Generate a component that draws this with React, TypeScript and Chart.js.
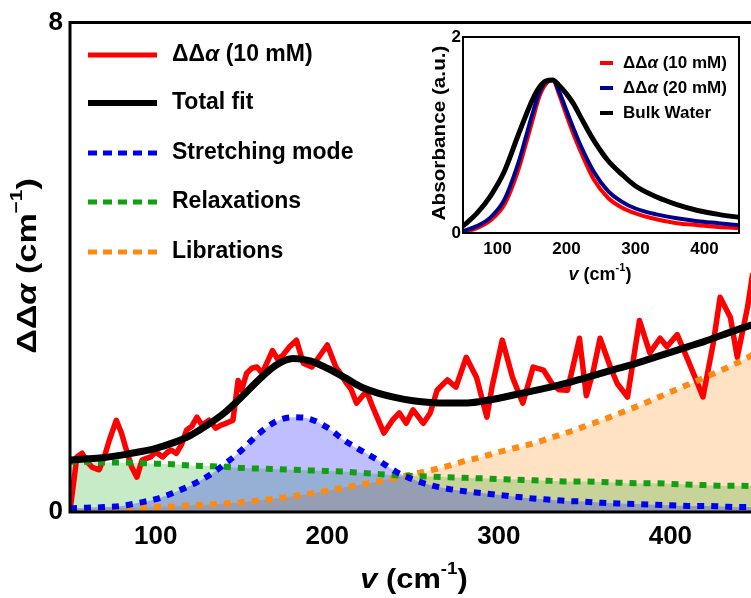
import React, { useEffect, useRef } from "react";
import { Chart, registerables } from "chart.js";

Chart.register(...registerables);

const FONT = '"Liberation Sans", Arial, Helvetica, sans-serif';

// ---- Main chart data ----
const fitV = [50, 60, 70, 80, 90, 100, 110, 120, 130, 140, 150, 160, 170, 180, 190, 200, 210, 220, 230, 240, 250, 260, 270, 280, 290, 300, 310, 320, 330, 340, 350, 360, 370, 380, 390, 400, 410, 420, 430, 440, 450];
const stretching = [0.06, 0.07, 0.08, 0.10, 0.15, 0.21, 0.31, 0.43, 0.58, 0.78, 1.01, 1.28, 1.48, 1.55, 1.52, 1.38, 1.17, 1.00, 0.84, 0.66, 0.53, 0.44, 0.38, 0.34, 0.31, 0.28, 0.25, 0.22, 0.20, 0.18, 0.17, 0.15, 0.14, 0.13, 0.12, 0.11, 0.10, 0.10, 0.09, 0.08, 0.08];
const relaxations = [0.82, 0.82, 0.81, 0.81, 0.80, 0.79, 0.78, 0.76, 0.75, 0.74, 0.72, 0.71, 0.70, 0.69, 0.68, 0.67, 0.66, 0.64, 0.62, 0.60, 0.59, 0.58, 0.57, 0.56, 0.55, 0.54, 0.53, 0.52, 0.51, 0.50, 0.50, 0.49, 0.48, 0.47, 0.47, 0.46, 0.45, 0.44, 0.43, 0.43, 0.42];
const librations = [0.05, 0.05, 0.06, 0.07, 0.07, 0.08, 0.09, 0.11, 0.12, 0.14, 0.16, 0.19, 0.22, 0.26, 0.30, 0.35, 0.40, 0.45, 0.50, 0.56, 0.62, 0.68, 0.75, 0.83, 0.90, 0.98, 1.05, 1.12, 1.21, 1.30, 1.40, 1.50, 1.61, 1.72, 1.84, 1.96, 2.08, 2.20, 2.32, 2.45, 2.60];
const totalFit = [0.85, 0.87, 0.89, 0.93, 0.98, 1.04, 1.13, 1.25, 1.42, 1.62, 1.88, 2.16, 2.40, 2.51, 2.47, 2.35, 2.20, 2.04, 1.94, 1.87, 1.82, 1.79, 1.78, 1.78, 1.81, 1.86, 1.92, 1.98, 2.04, 2.11, 2.19, 2.27, 2.35, 2.43, 2.52, 2.61, 2.70, 2.79, 2.89, 2.99, 3.08];

const dataV = [50, 52, 54, 57, 60, 63, 67, 70, 73, 77, 80, 83, 86, 89, 92, 95, 97, 100, 104, 107, 109, 112, 115, 118, 121, 124, 127, 131, 135, 138, 141, 145, 148, 150, 153, 156, 159, 162, 165, 168, 171, 174, 178, 182, 186, 191, 195, 200, 205, 208, 211, 214, 217, 220, 223, 226, 229, 233, 238, 242, 246, 250, 256, 260, 264, 270, 275, 281, 287, 293, 296, 302, 308, 314, 320, 326, 331, 335, 340, 347, 351, 355, 359, 365, 369, 375, 382, 388, 394, 398, 404, 410, 415, 419, 425, 429, 435, 439, 445, 448];
const dataA = [0.02, 0.45, 0.90, 0.96, 0.82, 0.73, 0.69, 0.90, 1.18, 1.50, 1.29, 1.00, 0.73, 0.57, 0.85, 0.88, 0.90, 0.98, 0.90, 0.98, 1.01, 0.96, 1.10, 1.34, 1.40, 1.55, 1.42, 1.50, 1.37, 1.42, 1.45, 1.50, 2.15, 1.99, 2.27, 2.35, 2.37, 2.27, 2.45, 2.64, 2.50, 2.56, 2.70, 2.81, 2.43, 2.37, 2.53, 2.73, 2.37, 2.25, 2.11, 2.00, 1.78, 1.88, 1.97, 1.75, 1.55, 1.29, 1.50, 1.62, 1.45, 1.67, 1.45, 1.62, 1.99, 2.16, 2.04, 2.53, 2.20, 1.55, 2.04, 2.81, 2.20, 1.78, 2.37, 2.32, 2.10, 2.00, 1.99, 2.84, 1.90, 2.30, 2.84, 2.37, 2.10, 1.88, 3.13, 2.60, 2.84, 2.70, 2.90, 2.50, 2.16, 1.88, 2.76, 3.51, 3.18, 2.53, 3.35, 3.90];

const mainXTicks = [100, 200, 300, 400];
const mainYTicks = [0, 8];

// ---- Inset data ----
const insetV = [50, 70, 90, 110, 130, 140, 150, 160, 170, 180, 190, 200, 210, 220, 240, 260, 280, 300, 330, 360, 390, 420, 450];
const inset10mM = [0.01, 0.05, 0.13, 0.29, 0.64, 0.88, 1.13, 1.38, 1.52, 1.56, 1.40, 1.20, 1.01, 0.84, 0.54, 0.36, 0.26, 0.20, 0.14, 0.10, 0.08, 0.06, 0.05];
const inset20mM = [0.02, 0.07, 0.16, 0.34, 0.71, 0.95, 1.20, 1.42, 1.54, 1.56, 1.43, 1.25, 1.07, 0.90, 0.62, 0.43, 0.32, 0.25, 0.19, 0.15, 0.12, 0.10, 0.08];
const insetBulk = [0.07, 0.20, 0.38, 0.63, 1.00, 1.18, 1.35, 1.48, 1.55, 1.56, 1.50, 1.42, 1.32, 1.19, 0.94, 0.74, 0.60, 0.48, 0.37, 0.29, 0.23, 0.19, 0.16];
const insetXTicks = [100, 200, 300, 400];
const insetYTicks = [0, 2];

const RED = "#ff0000";
const BLUE = "#0000f0";
const GREEN = "#12a012";
const ORANGE = "#ff8a12";
const BLUE_DARK = "#00008c";

type Part = { text: string; italic?: boolean; sup?: boolean };

function partFont(p: Part, size: number) {
  const s = p.sup ? Math.round(size * 0.6) : size;
  return `${p.italic ? "italic " : ""}bold ${s}px ${FONT}`;
}

function richWidth(ctx: CanvasRenderingContext2D, parts: Part[], size: number) {
  let w = 0;
  for (const p of parts) {
    ctx.font = partFont(p, size);
    w += ctx.measureText(p.text).width;
  }
  return w;
}

function drawRich(ctx: CanvasRenderingContext2D, parts: Part[], x: number, y: number, size: number, align: "left" | "center") {
  const total = richWidth(ctx, parts, size);
  let cx = align === "center" ? x - total / 2 : x;
  ctx.textAlign = "left";
  ctx.textBaseline = "middle";
  ctx.fillStyle = "#000";
  for (const p of parts) {
    ctx.font = partFont(p, size);
    ctx.fillText(p.text, cx, p.sup ? y - size * 0.38 : y);
    cx += ctx.measureText(p.text).width;
  }
}

const deltaLabel = (conc: string): Part[] => [
  { text: "ΔΔ" },
  { text: "α", italic: true },
  { text: ` (${conc})` },
];

const mainLegend = [
  { parts: deltaLabel("10 mM"), color: RED, dash: [] as number[], width: 5 },
  { parts: [{ text: "Total fit" }], color: "#000", dash: [] as number[], width: 6 },
  { parts: [{ text: "Stretching mode" }], color: BLUE, dash: [9, 6], width: 5 },
  { parts: [{ text: "Relaxations" }], color: GREEN, dash: [9, 6], width: 5 },
  { parts: [{ text: "Librations" }], color: ORANGE, dash: [9, 6], width: 5 },
];

const insetLegend = [
  { parts: deltaLabel("10 mM"), color: RED },
  { parts: deltaLabel("20 mM"), color: BLUE_DARK },
  { parts: [{ text: "Bulk Water" }], color: "#000" },
];

const mainDecor = {
  id: "mainDecor",
  afterDraw(chart: any) {
    const ctx: CanvasRenderingContext2D = chart.ctx;
    const a = chart.chartArea;
    ctx.save();
    ctx.strokeStyle = "#000";
    ctx.lineWidth = 3;
    ctx.setLineDash([]);
    ctx.beginPath();
    ctx.moveTo(a.right + 2, a.top);
    ctx.lineTo(a.left, a.top);
    ctx.lineTo(a.left, a.bottom);
    ctx.lineTo(a.right + 2, a.bottom);
    ctx.stroke();
    const rows = [55, 103, 153, 202, 252];
    mainLegend.forEach((item, i) => {
      const y = rows[i];
      ctx.beginPath();
      ctx.strokeStyle = item.color;
      ctx.lineWidth = item.width;
      ctx.lineCap = "butt";
      ctx.setLineDash(item.dash);
      ctx.moveTo(88, y);
      ctx.lineTo(157, y);
      ctx.stroke();
      ctx.setLineDash([]);
      drawRich(ctx, item.parts, 172, y, 23, "left");
    });
    ctx.save();
    ctx.translate(414, 580);
    ctx.scale(1.1, 1);
    drawRich(ctx, [{ text: "v", italic: true }, { text: " (cm" }, { text: "-1", sup: true }, { text: ")" }], 0, 0, 28, "center");
    ctx.restore();
    ctx.save();
    ctx.translate(28, 266);
    ctx.rotate(-Math.PI / 2);
    ctx.scale(1.22, 1);
    drawRich(ctx, [{ text: "ΔΔ" }, { text: "α", italic: true }, { text: " (cm" }, { text: "−1", sup: true }, { text: ")" }], 0, 0, 28, "center");
    ctx.restore();
    ctx.restore();
  },
};

const insetDecor = {
  id: "insetDecor",
  afterDraw(chart: any) {
    const ctx: CanvasRenderingContext2D = chart.ctx;
    const a = chart.chartArea;
    ctx.save();
    ctx.strokeStyle = "#000";
    ctx.lineWidth = 2;
    ctx.setLineDash([]);
    ctx.strokeRect(a.left, a.top, a.right - a.left, a.bottom - a.top);
    const rows = [43, 68, 93];
    insetLegend.forEach((item, i) => {
      const y = rows[i];
      ctx.beginPath();
      ctx.strokeStyle = item.color;
      ctx.lineWidth = 4;
      ctx.moveTo(180, y);
      ctx.lineTo(193, y);
      ctx.stroke();
      drawRich(ctx, item.parts, 203, y, 17, "left");
    });
    drawRich(ctx, [{ text: "v", italic: true }, { text: " (cm" }, { text: "-1", sup: true }, { text: ")" }], 180, 255, 18, "center");
    ctx.save();
    ctx.translate(20, 113);
    ctx.rotate(-Math.PI / 2);
    ctx.scale(1.15, 1);
    drawRich(ctx, [{ text: "Absorbance (a.u.)" }], 0, 0, 18, "center");
    ctx.restore();
    ctx.restore();
  },
};

export default function App() {
  const mainRef = useRef<HTMLCanvasElement | null>(null);
  const insetRef = useRef<HTMLCanvasElement | null>(null);

  useEffect(() => {
    const tickFont = { family: FONT, size: 26, weight: "bold" as const };
    const xy = (xs: number[], ys: number[]) => xs.map((x, i) => ({ x, y: ys[i] }));

    const main = new Chart(mainRef.current as HTMLCanvasElement, {
      type: "line",
      data: {
        datasets: [
          { label: "Total fit", data: xy(fitV, totalFit), borderColor: "#000", borderWidth: 7, pointRadius: 0, fill: false, cubicInterpolationMode: "monotone", order: 0 },
          { label: "Stretching mode", data: xy(fitV, stretching), borderColor: BLUE, borderWidth: 6, borderDash: [7, 7], pointRadius: 0, fill: "origin", backgroundColor: "rgba(0,0,255,0.25)", cubicInterpolationMode: "monotone", order: 1 },
          { label: "Relaxations", data: xy(fitV, relaxations), borderColor: GREEN, borderWidth: 6, borderDash: [7, 7], pointRadius: 0, fill: "origin", backgroundColor: "rgba(0,160,0,0.22)", cubicInterpolationMode: "monotone", order: 2 },
          { label: "Librations", data: xy(fitV, librations), borderColor: ORANGE, borderWidth: 6, borderDash: [7, 7], pointRadius: 0, fill: "origin", backgroundColor: "rgba(255,128,0,0.23)", cubicInterpolationMode: "monotone", order: 3 },
          { label: "ΔΔα (10 mM)", data: xy(dataV, dataA), borderColor: RED, borderWidth: 5.5, pointRadius: 0, fill: false, tension: 0, borderJoinStyle: "round", order: 4 },
        ] as any,
      },
      options: {
        animation: false,
        responsive: false,
        devicePixelRatio: 1,
        layout: { padding: { top: 22, left: 0, right: 0, bottom: 0 } },
        plugins: {
          legend: { display: false },
          tooltip: { enabled: false },
          filler: { drawTime: "beforeDatasetsDraw" },
        } as any,
        scales: {
          x: {
            type: "linear",
            min: 50,
            max: 447,
            grid: { display: false, drawTicks: false },
            border: { display: false },
            ticks: { font: tickFont, color: "#000", padding: 9, maxRotation: 0, autoSkip: false },
            afterBuildTicks: (s: any) => { s.ticks = mainXTicks.map((v) => ({ value: v })); },
            afterFit: (s: any) => { s.height = 86; },
          },
          y: {
            type: "linear",
            min: 0,
            max: 8,
            grid: { display: false, drawTicks: false },
            border: { display: false },
            ticks: { font: tickFont, color: "#000", padding: 7 },
            afterBuildTicks: (s: any) => { s.ticks = mainYTicks.map((v) => ({ value: v })); },
            afterFit: (s: any) => { s.width = 70; },
          },
        } as any,
      },
      plugins: [mainDecor],
    });

    const insetFont = { family: FONT, size: 17, weight: "bold" as const };
    const inset = new Chart(insetRef.current as HTMLCanvasElement, {
      type: "line",
      data: {
        datasets: [
          { label: "Bulk Water", data: xy(insetV, insetBulk), borderColor: "#000", borderWidth: 5, pointRadius: 0, fill: false, cubicInterpolationMode: "monotone", order: 0 },
          { label: "ΔΔα (20 mM)", data: xy(insetV, inset20mM), borderColor: BLUE_DARK, borderWidth: 4, pointRadius: 0, fill: false, cubicInterpolationMode: "monotone", order: 1 },
          { label: "ΔΔα (10 mM)", data: xy(insetV, inset10mM), borderColor: RED, borderWidth: 4, pointRadius: 0, fill: false, cubicInterpolationMode: "monotone", order: 2 },
        ] as any,
      },
      options: {
        animation: false,
        responsive: false,
        devicePixelRatio: 1,
        layout: { padding: { top: 17, left: 0, right: 12, bottom: 0 } },
        plugins: { legend: { display: false }, tooltip: { enabled: false } },
        scales: {
          x: {
            type: "linear",
            min: 50,
            max: 450,
            grid: { display: false, drawTicks: false },
            border: { display: false },
            ticks: { font: insetFont, color: "#000", padding: 6, maxRotation: 0, autoSkip: false },
            afterBuildTicks: (s: any) => { s.ticks = insetXTicks.map((v) => ({ value: v })); },
            afterFit: (s: any) => { s.height = 67; },
          },
          y: {
            type: "linear",
            min: 0,
            max: 2,
            grid: { display: false, drawTicks: false },
            border: { display: false },
            ticks: { font: insetFont, color: "#000", padding: 2 },
            afterBuildTicks: (s: any) => { s.ticks = insetYTicks.map((v) => ({ value: v })); },
            afterFit: (s: any) => { s.width = 43; },
          },
        } as any,
      },
      plugins: [insetDecor],
    });

    return () => {
      main.destroy();
      inset.destroy();
    };
  }, []);

  return (
    <div style={{ position: "fixed", left: 0, top: 0, width: 751, height: 598, background: "#fff", overflow: "hidden" }}>
      <canvas ref={mainRef} width={751} height={598} style={{ position: "absolute", left: 0, top: 0, width: 751, height: 598 }} />
      <canvas ref={insetRef} width={331} height={280} style={{ position: "absolute", left: 420, top: 20, width: 331, height: 280 }} />
    </div>
  );
}
